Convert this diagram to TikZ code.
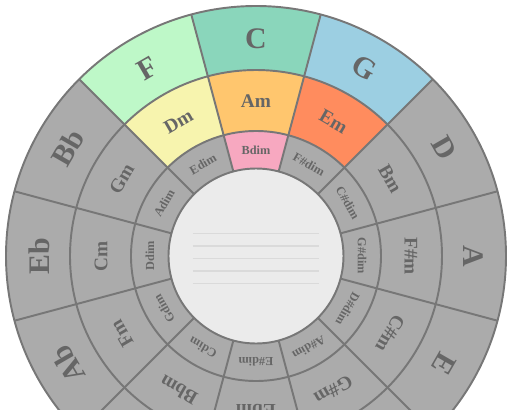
\documentclass[tikz,border=0pt]{standalone}
\usepackage{fontspec}
\setmainfont{Liberation Serif}
\usepackage{xcolor}
\usepackage{tikz}
\definecolor{ringgrey}{HTML}{ABABAB}
\definecolor{linegrey}{HTML}{777777}
\definecolor{textgrey}{HTML}{666666}
\definecolor{centregrey}{HTML}{EBEBEB}
\definecolor{staffgrey}{HTML}{DADADA}
\definecolor{keyF}{HTML}{BEF8C8}
\definecolor{keyC}{HTML}{8AD6BB}
\definecolor{keyG}{HTML}{9CCFE2}
\definecolor{keyDm}{HTML}{F7F4AE}
\definecolor{keyAm}{HTML}{FFC66E}
\definecolor{keyEm}{HTML}{FF8C5E}
\definecolor{keyBdim}{HTML}{F7A8C0}

\begin{document}
\begin{tikzpicture}[
    x=0.02cm,y=0.02cm,
    ringline/.style={draw=linegrey,line width=1.1pt},
    majlabel/.style={text=textgrey,inner sep=0pt,font=\bfseries\fontsize{17}{17}\selectfont},
    minlabel/.style={text=textgrey,inner sep=0pt,font=\bfseries\fontsize{11}{11}\selectfont},
    dimlabel/.style={text=textgrey,inner sep=0pt,font=\bfseries\fontsize{7}{7}\selectfont}
  ]
    \useasboundingbox (-256,-154) rectangle (256,256);
    \clip (-256,-154) rectangle (256,256);
    % sectors, clockwise from the top
    \foreach \maj/\mnr/\dm/\majcol/\mnrcol/\dmcol [count=\i from 0] in {
        C/Am/Bdim/keyC/keyAm/keyBdim,
        G/Em/F\#dim/keyG/keyEm/ringgrey,
        D/Bm/C\#dim/ringgrey/ringgrey/ringgrey,
        A/F\#m/G\#dim/ringgrey/ringgrey/ringgrey,
        E/C\#m/D\#dim/ringgrey/ringgrey/ringgrey,
        B/G\#m/A\#dim/ringgrey/ringgrey/ringgrey,
        F\#/Ebm/E\#dim/ringgrey/ringgrey/ringgrey,
        Db/Bbm/Cdim/ringgrey/ringgrey/ringgrey,
        Ab/Fm/Gdim/ringgrey/ringgrey/ringgrey,
        Eb/Cm/Ddim/ringgrey/ringgrey/ringgrey,
        Bb/Gm/Adim/ringgrey/ringgrey/ringgrey,
        F/Dm/Edim/keyF/keyDm/ringgrey} {
      \pgfmathsetmacro{\a}{90-30*\i}
      \fill[\majcol] (\a+15:186) arc[start angle=\a+15,end angle=\a-15,radius=186]
        -- (\a-15:250) arc[start angle=\a-15,end angle=\a+15,radius=250] -- cycle;
      \fill[\mnrcol] (\a+15:125) arc[start angle=\a+15,end angle=\a-15,radius=125]
        -- (\a-15:186) arc[start angle=\a-15,end angle=\a+15,radius=186] -- cycle;
      \fill[\dmcol] (\a+15:86) arc[start angle=\a+15,end angle=\a-15,radius=86]
        -- (\a-15:125) arc[start angle=\a-15,end angle=\a+15,radius=125] -- cycle;
      \node[majlabel,rotate=\a-90] (maj-\i) at (\a:217) {\maj};
      \node[minlabel,rotate=\a-90] (min-\i) at (\a:155) {\mnr};
      \node[dimlabel,rotate=\a-90] (dim-\i) at (\a:106) {\dm};
    }
    % ring borders
    \foreach \r in {250,186,125}
      \draw[ringline] (0,0) circle[radius=\r];
    \foreach \k in {0,...,11}
      \draw[ringline] (15+30*\k:86) -- (15+30*\k:250);
    % centre disc with staff lines
    \node[circle,fill=centregrey,draw=linegrey,line width=1.1pt,minimum size=175*0.02cm,inner sep=0pt] (centre) at (0,0) {};
    \foreach \y in {22.5,10,-2.5,-15,-27.5}
      \draw[staffgrey,line width=0.6pt] (-63,\y) -- (63,\y);
  \end{tikzpicture}
\end{document}
